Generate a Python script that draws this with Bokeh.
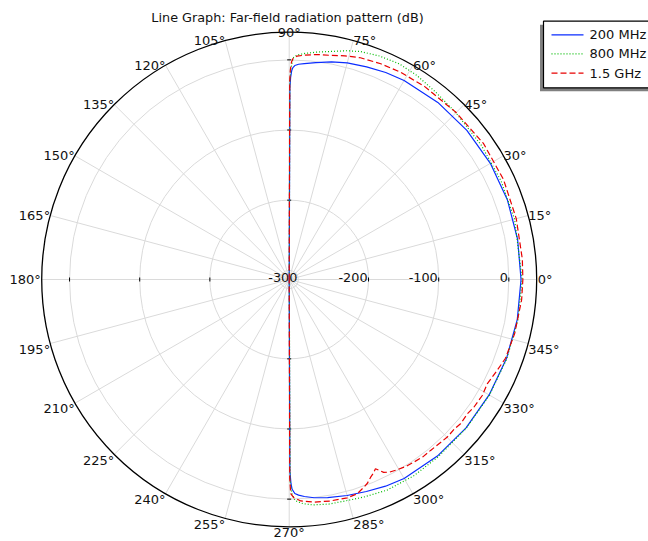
import numpy as np
from bokeh.plotting import figure
from bokeh.models import Range1d
from bokeh.embed import file_html
from bokeh.resources import INLINE
from bokeh.core.properties import value

# ---------------- data ----------------
title_text = "Line Graph: Far-field radiation pattern (dB)"
series_names = ["200 MHz", "800 MHz", "1.5 GHz"]

FLOOR = -313.1  # values at / below the radial minimum (drawn at the centre)

ang_200 = [90, 89.8, 89.6, 89.3, 89.0, 88.5, 87.5, 86, 83, 79, 75, 70, 65, 60, 50, 40, 30, 20, 10, 0,
           -10, -20, -30, -40, -50, -60, -65, -70, -75, -80, -83.5, -86, -87.5, -88.5, -89.2, -89.5, -89.8, -90]
db_200 = [FLOOR, -40, -25, -15, -11, -8, -6, -4.5, -1.5, 3, 6.5, 9.5, 12.5, 14.5, 16.5, 17.5, 18, 18, 17.5, 17.4,
          17, 16.5, 16, 16, 15.5, 14.5, 12, 8.5, 5.7, 2.5, 0, -3, -5.5, -8, -14, -22, -40, FLOOR]

ang_800 = [90, 89.8, 89.5, 89.0, 88, 86, 83, 79.6, 76, 72.6, 68, 63, 58, 52, 45, 35, 25, 15, 0,
           -10, -20, -30, -40, -50, -57.5, -65, -71, -76, -80, -84, -86.5, -88.5, -89.3, -89.7, -90]
db_800 = [FLOOR, -30, -12, 3, 7, 10, 13.5, 17.4, 23, 27.4, 30.5, 32, 30, 26, 23, 21, 20, 19.5, 19,
          18, 17, 16.5, 16.5, 17, 18.3, 18, 14.8, 12.5, 12, 10, 7, 2, -8, -25, FLOOR]

ang_15 = [90, 89.85, 89.7, 89.4, 89.0, 88, 86, 83, 79.4, 76, 72.2, 67, 61.8, 55, 45, 35, 25, 15, 5, 0,
          -5, -13.5, -20, -24, -27.8, -31, -34.7, -37, -40.1, -42, -44.9, -47, -50.4, -53, -55.7, -58,
          -60.4, -62.5, -63.9, -65.5, -66.5, -67.6, -69, -70.2, -72.4, -75.1, -79.6, -83.7, -87, -88.8,
          -89.6, -89.85, -90]
db_15 = [FLOOR, -30, -15, -3, 2, 5.5, 7.5, 10, 11.9, 15.5, 18.9, 21, 22.3, 23, 23.5, 25, 24, 22, 20.5, 20,
         19.5, 17.4, 15, 10, 6.0, 8, 7.0, 5, 6.2, 4.5, 5.1, 4, 3.1, 3.5, 2.1, 1,
         -1.2, -3.5, -7.0, -16.6, -12, -8.3, -2, 1.5, 7.4, 8.9, 8, 6.2, 3, -2,
         -8, -30, FLOOR]

radial_ticks = [-300, -200, -100, 0]
radial_labels = ["-300", "-200", "-100", "0"]
angle_ticks = list(range(0, 360, 15))
angle_labels = [f"{a}\u00b0" for a in angle_ticks]

# ---------------- geometry ----------------
R_MIN = -313.1      # radial value at centre
R_MAX = 39.7        # radial value of the outer circle
K = 0.7015          # px per dB
W, H = 648, 541
CX, CY = 288.7, 279.0   # centre in page px (from left / top)

FONT = value("DejaVu Sans")


def polar(theta_deg, v):
    th = np.radians(np.asarray(theta_deg, dtype=float))
    r = np.clip(np.asarray(v, dtype=float) - R_MIN, 0, None)
    return r * np.cos(th), r * np.sin(th)


def px(xp, yp):
    """page pixel -> data coords"""
    return (xp - CX) / K, (CY - yp) / K


p = figure(width=W, height=H, output_backend="svg", toolbar_location=None,
           x_range=Range1d(-CX / K, (W - CX) / K), y_range=Range1d(-(H - CY) / K, CY / K),
           x_axis_location=None, y_axis_location=None, min_border=0)
p.grid.visible = False
p.outline_line_color = None
p.background_fill_color = "white"
p.border_fill_color = "white"

R_OUT = R_MAX - R_MIN
GRID = "#dadada"

# spokes
for a in angle_ticks:
    x1, y1 = polar(a, R_MAX)
    p.line([0, float(x1)], [0, float(y1)], line_color=GRID, line_width=1)
# rings
p.circle(x=[0] * len(radial_ticks), y=[0] * len(radial_ticks),
         radius=[t - R_MIN for t in radial_ticks], fill_color=None, line_color=GRID, line_width=1)
# outer circle
p.circle(x=[0], y=[0], radius=[R_OUT], fill_color=None, line_color="black", line_width=1.3)

# tick marks on the 4 main axes
tl = 2.0 / K
for a in [0, 90, 180, 270]:
    for t in radial_ticks[1:]:
        cx, cy = polar(a, t)
        th = np.radians(a)
        nx, ny = -np.sin(th), np.cos(th)
        p.line([float(cx - nx * tl), float(cx + nx * tl)], [float(cy - ny * tl), float(cy + ny * tl)],
               line_color="black", line_width=1)

# radial labels
rx, ry = polar([0] * len(radial_ticks), radial_ticks)
p.text(x=list(rx), y=list(ry), text=radial_labels, text_font=FONT, text_font_size="12.8px",
       text_align="right", text_baseline="alphabetic", y_offset=-2, x_offset=-1, text_color="#111111")

# curves
styles = [("#0a2cff", None), ("#00bb00", "1 2"), ("#e80000", "6 3")]
for (angs, dbs), (col, dash) in zip([(ang_200, db_200), (ang_800, db_800), (ang_15, db_15)], styles):
    xs, ys = polar(angs, dbs)
    kw = dict(line_color=col, line_width=1.2)
    if dash:
        kw["line_dash"] = dash
    p.line(list(xs), list(ys), **kw)

# angle labels
for a, lab in zip(angle_ticks, angle_labels):
    x, y = polar(a, R_MAX)
    if a == 0:
        al, bl, xo, yo = "left", "middle", 1, 0
    elif a < 90:
        al, bl, xo, yo = "left", "alphabetic", 0, 0
    elif a == 90:
        al, bl, xo, yo = "center", "alphabetic", 0, 0
    elif a < 180:
        al, bl, xo, yo = "right", "alphabetic", 0, 0
    elif a == 180:
        al, bl, xo, yo = "right", "middle", -1, 0
    elif a < 270:
        al, bl, xo, yo = "right", "top", 0, -2
    elif a == 270:
        al, bl, xo, yo = "center", "top", 0, -2
    else:
        al, bl, xo, yo = "left", "top", 0, -2
    p.text(x=[float(x)], y=[float(y)], text=[lab], text_font=FONT, text_font_size="13px",
           text_align=al, text_baseline=bl, x_offset=xo, y_offset=yo, text_color="#111111")

# title
tx, ty = px(287, 17)
p.text(x=[tx], y=[ty], text=[title_text], text_font=FONT, text_font_size="12.8px",
       text_align="center", text_baseline="alphabetic", text_color="#111111")

# legend
L, T, B, Rr = 543, 20.7, 87.3, 700
sl, st = px(L - 3.5, T + 3.5)
sr, sb = px(Rr, B + 3.5)
p.quad(left=[sl], right=[sr], top=[st], bottom=[sb], fill_color="#808080", line_color=None)
ll, lt = px(L, T)
lr, lb = px(Rr, B)
p.quad(left=[ll], right=[lr], top=[lt], bottom=[lb], fill_color="white", line_color="black", line_width=1.2)
rows = [34.3, 53.3, 72.7]
for name, (col, dash), yy in zip(series_names, styles, rows):
    x0, y0 = px(551, yy)
    x1, _ = px(583, yy)
    kw = dict(line_color=col, line_width=1.2)
    if dash:
        kw["line_dash"] = dash
    p.line([x0, x1], [y0, y0], **kw)
    xt, _ = px(589, yy)
    p.text(x=[xt], y=[y0], text=[name], text_font=FONT, text_font_size="13px",
           text_align="left", text_baseline="middle", text_color="#111111")

open("out.html", "w").write(file_html(p, INLINE))
